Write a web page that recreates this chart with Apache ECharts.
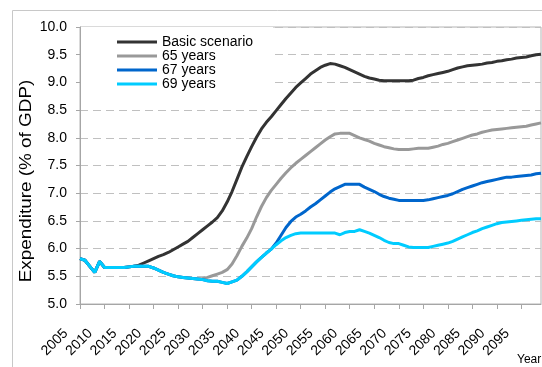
<!DOCTYPE html>
<html>
<head>
<meta charset="utf-8">
<script src="https://cdn.jsdelivr.net/npm/echarts@6/dist/echarts.min.js"></script>
<style>
  html, body { margin: 0; padding: 0; background: #fff; }
  #chart { width: 542px; height: 367px; }
</style>
</head>
<body>
<div id="chart"></div>
<script>
// Public pension expenditure projections, % of GDP, 2005-2099
const years = [];
for (let y = 2005; y <= 2099; y++) years.push(String(y));

const seriesNames = ['Basic scenario', '65 years', '67 years', '69 years'];

const basicScenario = [
  5.82, 5.79, 5.68, 5.57, 5.77,
  5.66, 5.66, 5.66, 5.66, 5.66, 5.67, 5.68, 5.70, 5.74, 5.78,
  5.82, 5.86, 5.89, 5.93, 5.98, 6.03, 6.08, 6.13, 6.20, 6.27,
  6.34, 6.41, 6.48, 6.56, 6.68, 6.84, 7.03, 7.25, 7.47, 7.66,
  7.84, 8.01, 8.16, 8.28, 8.38, 8.49, 8.60, 8.71, 8.81, 8.91,
  8.99, 9.07, 9.15, 9.21, 9.27, 9.31, 9.34, 9.33, 9.30, 9.27,
  9.23, 9.19, 9.15, 9.11, 9.08, 9.06, 9.04, 9.03, 9.03, 9.03,
  9.03, 9.03, 9.03, 9.04, 9.07, 9.09, 9.12, 9.14, 9.16, 9.18,
  9.20, 9.23, 9.26, 9.28, 9.30, 9.31, 9.32, 9.33, 9.35, 9.36,
  9.38, 9.39, 9.41, 9.42, 9.44, 9.45, 9.46, 9.48, 9.50, 9.51
];

const age65 = [
  5.82, 5.79, 5.68, 5.57, 5.77,
  5.66, 5.66, 5.66, 5.66, 5.66, 5.67, 5.68, 5.68, 5.68, 5.68,
  5.65, 5.61, 5.57, 5.54, 5.51, 5.49, 5.48, 5.47, 5.46, 5.45,
  5.46, 5.48, 5.51, 5.54, 5.57, 5.62, 5.72, 5.87, 6.04, 6.19,
  6.36, 6.57, 6.76, 6.92, 7.05, 7.16, 7.27, 7.37, 7.46, 7.54,
  7.61, 7.68, 7.75, 7.82, 7.89, 7.96, 8.02, 8.07, 8.08, 8.08,
  8.08, 8.04, 8.00, 7.97, 7.94, 7.90, 7.87, 7.84, 7.82, 7.80,
  7.79, 7.79, 7.79, 7.80, 7.81, 7.81, 7.81, 7.83, 7.85, 7.88,
  7.90, 7.93, 7.96, 7.99, 8.02, 8.05, 8.07, 8.10, 8.12, 8.14,
  8.15, 8.16, 8.17, 8.18, 8.19, 8.20, 8.21, 8.23, 8.25, 8.27
];

const age67 = [
  5.82, 5.79, 5.68, 5.57, 5.77,
  5.66, 5.66, 5.66, 5.66, 5.66, 5.67, 5.68, 5.68, 5.68, 5.68,
  5.65, 5.61, 5.57, 5.54, 5.51, 5.49, 5.48, 5.47, 5.46, 5.45,
  5.44, 5.42, 5.41, 5.41, 5.39, 5.37, 5.40, 5.43, 5.50, 5.58,
  5.67, 5.76, 5.84, 5.92, 5.99, 6.10, 6.24, 6.38, 6.49, 6.57,
  6.62, 6.68, 6.75, 6.81, 6.88, 6.95, 7.02, 7.08, 7.12, 7.16,
  7.16, 7.16, 7.16, 7.11, 7.07, 7.03, 6.98, 6.94, 6.91, 6.89,
  6.87, 6.87, 6.87, 6.87, 6.87, 6.87, 6.88, 6.90, 6.92, 6.94,
  6.96, 6.99, 7.03, 7.07, 7.10, 7.13, 7.16, 7.19, 7.21, 7.23,
  7.25, 7.27, 7.29, 7.29, 7.30, 7.31, 7.32, 7.33, 7.35, 7.36
];

const age69 = [
  5.82, 5.79, 5.68, 5.57, 5.77,
  5.66, 5.66, 5.66, 5.66, 5.66, 5.67, 5.68, 5.68, 5.68, 5.68,
  5.65, 5.61, 5.57, 5.54, 5.51, 5.49, 5.48, 5.47, 5.46, 5.45,
  5.44, 5.42, 5.41, 5.41, 5.39, 5.37, 5.40, 5.43, 5.50, 5.58,
  5.67, 5.76, 5.84, 5.92, 5.99, 6.07, 6.14, 6.20, 6.24, 6.27,
  6.28, 6.28, 6.28, 6.28, 6.28, 6.28, 6.28, 6.28, 6.25, 6.29,
  6.31, 6.31, 6.34, 6.31, 6.28, 6.24, 6.20, 6.15, 6.11, 6.09,
  6.09, 6.06, 6.03, 6.02, 6.02, 6.02, 6.02, 6.04, 6.06, 6.08,
  6.10, 6.13, 6.17, 6.21, 6.25, 6.29, 6.32, 6.36, 6.39, 6.42,
  6.45, 6.47, 6.48, 6.49, 6.50, 6.51, 6.52, 6.53, 6.54, 6.54
];

const seriesValues = [basicScenario, age65, age67, age69];
const seriesColors = ['#333333', '#999999', '#0066cc', '#00ccff'];

const FONT = '"Liberation Sans", Arial, sans-serif';

const chart = echarts.init(document.getElementById('chart'), null, { renderer: 'canvas' });

chart.setOption({
  animation: false,
  backgroundColor: '#ffffff',
  textStyle: { fontFamily: FONT },
  grid: {
    left: 80, top: 27, right: 1, bottom: 63,
    containLabel: false,
    outerBoundsMode: 'none',
    show: true, borderColor: '#b4b4b4', borderWidth: 1, backgroundColor: 'transparent'
  },
  legend: {
    orient: 'vertical',
    left: 81, top: 27,
    padding: [8, 20, 6, 36],
    backgroundColor: '#ffffff',
    itemWidth: 40, itemHeight: 3, itemGap: 0,
    icon: 'rect',
    textStyle: { fontFamily: FONT, fontSize: 14, color: '#000', lineHeight: 14 },
    data: seriesNames
  },
  xAxis: {
    type: 'category',
    data: years,
    boundaryGap: false,
    axisLine: { lineStyle: { color: '#a6a6a6', width: 1 } },
    axisTick: { interval: 4, length: 5, lineStyle: { color: '#a6a6a6' } },
    axisLabel: {
      interval: 4, rotate: 45, margin: 13,
      padding: [0, 20, 0, 0],
      fontFamily: FONT, fontSize: 14, color: '#000'
    },
    splitLine: { show: false }
  },
  yAxis: {
    type: 'value',
    min: 5, max: 10, interval: 0.5,
    axisLine: { show: true, lineStyle: { color: '#a6a6a6', width: 1 } },
    axisTick: { show: true, length: 4, lineStyle: { color: '#a6a6a6' } },
    axisLabel: {
      margin: 13, fontFamily: FONT, fontSize: 14, color: '#000',
      formatter: v => v.toFixed(1)
    },
    splitLine: { lineStyle: { color: '#c0c0c0', type: [8, 5], width: 1 } }
  },
  graphic: [
    {
      type: 'rect', silent: true, z: -10,
      shape: { x: 12.5, y: 10.5, width: 620, height: 420 },
      style: { fill: 'none', stroke: '#c8c8c8', lineWidth: 1 }
    },
    {
      type: 'text', silent: true,
      x: 27, y: 181, rotation: Math.PI / 2, scaleX: 1.18,
      style: {
        text: 'Expenditure (% of GDP)', fontFamily: FONT, fontSize: 16,
        fill: '#000', align: 'center', verticalAlign: 'middle'
      }
    },
    {
      type: 'text', silent: true,
      x: 517, y: 360,
      style: {
        text: 'Year', fontFamily: FONT, fontSize: 12,
        fill: '#000', align: 'left', verticalAlign: 'middle'
      }
    }
  ],
  series: seriesNames.map((name, i) => ({
    name,
    type: 'line',
    data: seriesValues[i],
    showSymbol: false,
    symbol: 'none',
    lineStyle: { color: seriesColors[i], width: 3 },
    itemStyle: { color: seriesColors[i] },
    z: 2 + i
  }))
});
</script>
</body>
</html>
